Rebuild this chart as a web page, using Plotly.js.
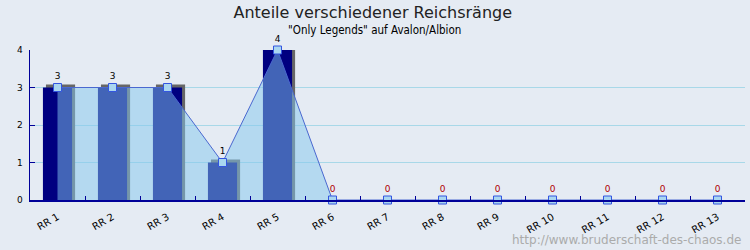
<!DOCTYPE html>
<html>
<head>
<meta charset="utf-8">
<script src="https://cdn.plot.ly/plotly-3.0.1.min.js"></script>
<style>html,body{margin:0;padding:0;background:#e5ebf3;}#chart{width:750px;height:250px;}</style>
</head>
<body>
<div id="chart"></div>
<script>
const categories = ["RR 1","RR 2","RR 3","RR 4","RR 5","RR 6","RR 7","RR 8","RR 9","RR 10","RR 11","RR 12","RR 13"];
const values = [3,3,3,1,4,0,0,0,0,0,0,0,0];
const yTicks = [0,1,2,3,4];

const BG = "#e5ebf3";
const barWidth = 0.53;
const shadowDx = 0.055;   // style: 3D offset in category units
const shadowDy = 0.08;    // style: 3D offset in value units

const shadow = {
  type: "bar", x: categories,
  y: values.map(v => v > 0 ? v + shadowDy : null),
  width: barWidth, offset: -barWidth/2 + shadowDx,
  marker: {color: "#666666", line: {width: 0}},
  hoverinfo: "skip", showlegend: false
};
const bars = {
  type: "bar", x: categories, y: values,
  width: barWidth, offset: -barWidth/2,
  marker: {color: "#000080", line: {width: 0}},
  showlegend: false
};
const area = {
  type: "scatter", mode: "lines+markers+text", x: categories, y: values,
  fill: "tozeroy", fillcolor: "rgba(132,200,238,0.5)",
  line: {color: "#4a68d0", width: 1},
  marker: {symbol: "square", size: 8, color: "#a9d6f0", line: {color: "#3355e0", width: 1}},
  text: values.map(String), textposition: "top center",
  textfont: {family: "DejaVu Sans", size: 9, color: values.map(v => v === 0 ? "#b00000" : "#000000")},
  cliponaxis: false, showlegend: false
};

const layout = {
  width: 750, height: 250,
  paper_bgcolor: BG, plot_bgcolor: BG,
  margin: {l: 30, r: 5, t: 50, b: 50},
  barmode: "overlay",
  showlegend: false,
  title: {text: "Anteile verschiedener Reichsränge", x: 0.497, xanchor: "center",
          y: 1 - 12/250, yref: "container", yanchor: "middle",
          font: {family: "DejaVu Sans", size: 16, color: "#222222"}},
  xaxis: {
    type: "category", range: [-0.5, 12.5],
    showline: true, linecolor: "#000099", linewidth: 1.5,
    ticks: "inside", tickson: "boundaries", ticklen: 4, tickcolor: "#000099",
    tickangle: -30, ticklabelstandoff: 6,
    tickfont: {family: "DejaVu Sans", size: 10, color: "#000000"},
    showgrid: false, zeroline: false
  },
  yaxis: {
    range: [0, 4], tickvals: yTicks, ticktext: yTicks.map(String),
    showline: true, linecolor: "#000099", linewidth: 1.5,
    ticks: "inside", ticklen: 5, tickcolor: "#000099",
    ticklabelstandoff: 4,
    tickfont: {family: "DejaVu Sans", size: 9, color: "#000000"},
    showgrid: true, gridcolor: "#a8d8e8", gridwidth: 1, zeroline: false
  },
  annotations: [
    {text: "\"Only Legends\" auf Avalon/Albion", xref: "paper", yref: "paper",
     x: (374 - 30)/715, y: (200 - 30)/150, xanchor: "center", yanchor: "middle", showarrow: false,
     font: {family: "DejaVu Sans Condensed", size: 11.5, color: "#000000"}},
    {text: "http://www.bruderschaft-des-chaos.de", xref: "paper", yref: "paper",
     x: (743 - 30)/715, y: (200 - 240)/150, xanchor: "right", yanchor: "middle", showarrow: false,
     font: {family: "DejaVu Sans", size: 12, color: "#ababab"}}
  ]
};

Plotly.newPlot("chart", [shadow, bars, area], layout, {staticPlot: true, displayModeBar: false});
</script>
</body>
</html>
